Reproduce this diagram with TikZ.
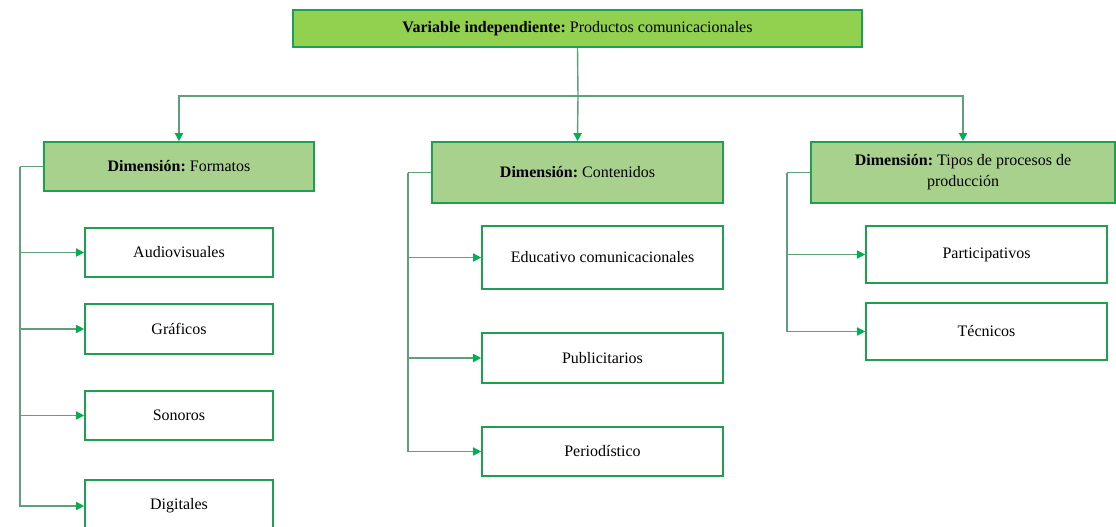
\documentclass[tikz,border=0pt]{standalone}
\usepackage{fontspec}
\setmainfont{Liberation Serif}
\usetikzlibrary{arrows.meta}
\frenchspacing
\definecolor{topfill}{HTML}{92D050}
\definecolor{dimfill}{HTML}{A9D18E}
\definecolor{bord}{HTML}{1FA050}
\definecolor{linec}{HTML}{5FA07A}
\definecolor{tipc}{HTML}{00B050}
\tikzset{
  box/.style={draw=bord, line width=1.6pt, inner sep=0pt, align=center, font=\fontsize{16}{21}\selectfont},
  topbox/.style={box, fill=topfill},
  dimbox/.style={box, fill=dimfill},
  leaf/.style={box, fill=white},
  conn/.style={draw=linec, line width=1.4pt},
  arr/.style={conn, -{Triangle[length=8pt,width=8pt,fill=tipc,color=tipc]}}
}
\begin{document}
\begin{tikzpicture}[x=1pt,y=1pt]
\useasboundingbox (0,0) rectangle (1116,-527);
% top
\node[topbox, minimum width=569, minimum height=37] (top) at (577.5,-28.5) {\textbf{Variable independiente:} Productos comunicacionales};
% dimensions
\node[dimbox, minimum width=270, minimum height=49] (dimF) at (179,-166.5) {\textbf{Dimensión:} Formatos};
\node[dimbox, minimum width=291, minimum height=61] (dimC) at (577.5,-172.5) {\textbf{Dimensión:} Contenidos};
\node[dimbox, minimum width=304, minimum height=61] (dimT) at (963,-172.5) {\textbf{Dimensión:} Tipos de procesos de\\producción};
% leaves formatos
\node[leaf, minimum width=188, minimum height=49] (aud) at (179,-252.5) {Audiovisuales};
\node[leaf, minimum width=188, minimum height=50] (gra) at (179,-329) {Gráficos};
\node[leaf, minimum width=188, minimum height=49] (son) at (179,-415.5) {Sonoros};
\node[leaf, minimum width=188, minimum height=52] (dig) at (179,-506) {Digitales};
% leaves contenidos
\node[leaf, minimum width=241, minimum height=63] (edu) at (602.5,-257.5) {Educativo comunicacionales};
\node[leaf, minimum width=241, minimum height=50] (pub) at (602.5,-358) {Publicitarios};
\node[leaf, minimum width=241, minimum height=49] (per) at (602.5,-451.5) {Periodístico};
% leaves tipos
\node[leaf, minimum width=241, minimum height=57] (par) at (986.5,-254.5) {Participativos};
\node[leaf, minimum width=241, minimum height=57] (tec) at (986.5,-331.5) {Técnicos};
% top connectors
\coordinate (hub) at (578,-96);
\draw[conn] (top.south) -- (hub);
\draw[arr] (hub) -| (dimF.north);
\draw[arr] (hub) -- (dimC.north);
\draw[arr] (hub) -| (dimT.north);
% formatos connectors
\coordinate (fL) at (20,-166.5);
\draw[conn] (dimF.west) -- (fL);
\draw[arr] (fL) |- (aud.west);
\draw[arr] (fL) |- (gra.west);
\draw[arr] (fL) |- (son.west);
\draw[arr] (fL) |- (dig.west);
% contenidos connectors
\coordinate (cL) at (408,-172.5);
\draw[conn] (dimC.west) -- (cL);
\draw[arr] (cL) |- (edu.west);
\draw[arr] (cL) |- (pub.west);
\draw[arr] (cL) |- (per.west);
% tipos connectors
\coordinate (tL) at (787,-172.5);
\draw[conn] (dimT.west) -- (tL);
\draw[arr] (tL) |- (par.west);
\draw[arr] (tL) |- (tec.west);
\end{tikzpicture}
\end{document}
